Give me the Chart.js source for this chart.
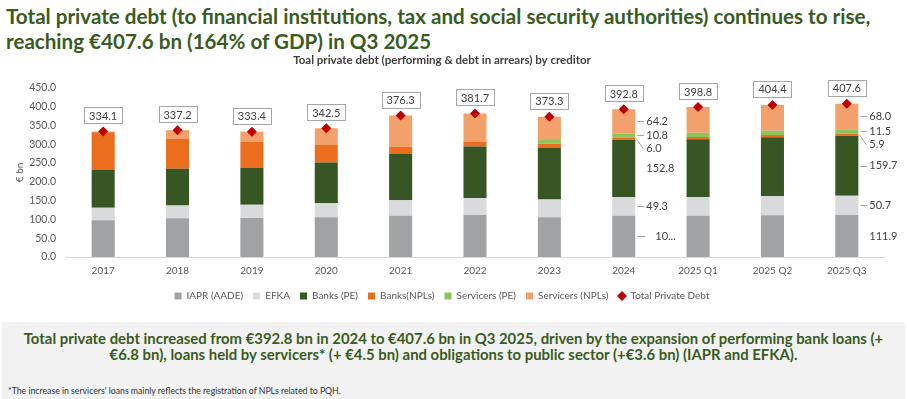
<!DOCTYPE html>
<html>
<head>
<meta charset="utf-8">
<script src="https://cdn.jsdelivr.net/npm/chart.js@4/dist/chart.umd.min.js"></script>
<style>
  body { margin: 0; width: 907px; height: 399px; background: #fff; position: relative; overflow: hidden; font-family: Lato, sans-serif; }
  #title { position: absolute; left: 6px; top: 4px; font-weight: bold; color: #3A5B1F; font-size: 20.6px; line-height: 25px; white-space: nowrap; }
  #wrap { position: absolute; left: 0; top: 48px; width: 907px; height: 268px; }
  #note { position: absolute; left: 2px; top: 322px; width: 903px; height: 77px; background: #F2F2F2; }
  #note .main { text-align: center; font-weight: bold; color: #3A5B1F; font-size: 14.9px; line-height: 16px; padding-top: 8px; white-space: nowrap; }
  #note .foot { position: absolute; left: 6px; top: 63px; font-size: 8.7px; color: #333; white-space: nowrap; }
</style>
</head>
<body>
<div id="title">Total private debt (to financial institutions, tax and social security authorities) continues to rise,<br>reaching €407.6 bn (164% of GDP) in Q3 2025</div>
<div id="wrap"><canvas id="debtChart"></canvas></div>
<div id="note">
  <div class="main">Total private debt increased from €392.8 bn in 2024 to €407.6 bn in Q3 2025, driven by the expansion of performing bank loans (+<br>€6.8 bn), loans held by servicers* (+ €4.5 bn) and obligations to public sector (+€3.6 bn) (IAPR and EFKA).</div>
  <div class="foot">*The increase in servicers' loans mainly reflects the registration of NPLs related to PQH.</div>
</div>
<script>
// Values in € bn
const categories = ['2017', '2018', '2019', '2020', '2021', '2022', '2023', '2024', '2025 Q1', '2025 Q2', '2025 Q3'];
const iapr = [98, 103, 104, 106, 109.5, 112, 106, 109.7, 110, 111, 111.9];
const efka = [33, 34, 35, 37, 41.5, 45, 46.7, 49.3, 49.8, 50.3, 50.7];
const banksPE = [102, 98, 98, 108.5, 123.5, 137, 137.5, 152.8, 153.5, 157, 159.7];
const banksNPL = [99, 80, 69, 47.5, 18.5, 13, 11, 6.0, 6.0, 6.0, 5.9];
const servicersPE = [0, 0, 0, 0, 0, 0, 9.7, 10.8, 11.0, 11.3, 11.5];
const servicersNPL = [2.1, 22.2, 27.4, 43.5, 83.3, 74.7, 62.4, 64.2, 68.5, 68.8, 68.0];
const totalDebt = [334.1, 337.2, 333.4, 342.5, 376.3, 381.7, 373.3, 392.8, 398.8, 404.4, 407.6];
const yTicks = [0, 50, 100, 150, 200, 250, 300, 350, 400, 450];

// bars that get segment labels on their right
const labelledBars = [7, 10];

const textColor = '#595959';

function barSet(label, data, color) {
    return {
        label: label,
        data: data,
        backgroundColor: color,
        borderWidth: 0,
        stack: 'debt',
        barPercentage: 0.31,
        categoryPercentage: 1,
        pointStyle: 'rect',
        order: 1
    };
}

// Draws the boxed totals and the segment values with leader lines
const labelsPlugin = {
    id: 'labelsPlugin',
    afterDatasetsDraw(chart) {
        const ctx = chart.ctx;
        ctx.save();
        ctx.font = '11px Lato';
        ctx.textBaseline = 'middle';

        // totals in boxes
        const pts = chart.getDatasetMeta(6).data;
        pts.forEach((pt, i) => {
            const text = totalDebt[i].toFixed(1);
            const w = Math.round(ctx.measureText(text).width + 10);
            const h = 16;
            const cy = pt.y - 16;
            const x0 = Math.round(pt.x - w / 2) + 0.5;
            const y0 = Math.round(cy - h / 2) + 0.5;
            ctx.fillStyle = '#fff';
            ctx.fillRect(x0, y0, w, h);
            ctx.strokeStyle = '#A6A6A6';
            ctx.lineWidth = 1;
            ctx.strokeRect(x0, y0, w, h);
            ctx.fillStyle = '#404040';
            ctx.textAlign = 'center';
            ctx.fillText(text, pt.x, cy + 1);
        });

        // segment values
        ctx.textAlign = 'left';
        labelledBars.forEach(i => {
            for (let d = 0; d < 6; d++) {
                const bar = chart.getDatasetMeta(d).data[i];
                const value = chart.data.datasets[d].data[i];
                const right = bar.x + bar.width / 2;
                const cy = (bar.y + bar.base) / 2;
                let text = value.toFixed(1);
                let ly = cy;
                let tx = right + 11;
                let line = true;
                ctx.strokeStyle = '#A6A6A6';
                ctx.lineWidth = 1;
                if (d === 3) {
                    // small Banks(NPLs) slice: label pushed down
                    ly = cy + 10;
                    ctx.beginPath();
                    ctx.moveTo(right + 1, cy);
                    ctx.lineTo(right + 8, ly);
                    ctx.stroke();
                    line = false;
                } else if (d === 0 && i === 7) {
                    text = '10...';
                    tx = right + 20;
                    ctx.beginPath();
                    ctx.moveTo(right + 2, Math.round(ly) + 0.5);
                    ctx.lineTo(right + 10, Math.round(ly) + 0.5);
                    ctx.stroke();
                    line = false;
                } else if ((d === 2 && i === 7) || (d === 0 && i === 10)) {
                    line = false;
                }
                if (line) {
                    ctx.beginPath();
                    ctx.moveTo(right + 2, Math.round(ly) + 0.5);
                    ctx.lineTo(right + 9, Math.round(ly) + 0.5);
                    ctx.stroke();
                }
                ctx.fillStyle = '#404040';
                ctx.fillText(text, tx, ly);
            }
        });
        ctx.restore();
    }
};

const ctx = document.getElementById('debtChart').getContext('2d');
new Chart(ctx, {
    type: 'bar',
    data: {
        labels: categories,
        datasets: [
            barSet('IAPR (AADE)', iapr, '#A0A2A4'),
            barSet('EFKA', efka, '#D9DADB'),
            barSet('Banks (PE)', banksPE, '#375623'),
            barSet('Banks(NPLs)', banksNPL, '#EB6E1F'),
            barSet('Servicers (PE)', servicersPE, '#8CC45E'),
            barSet('Servicers (NPLs)', servicersNPL, '#F4A06A'),
            {
                type: 'line',
                label: 'Total Private Debt',
                data: totalDebt,
                showLine: false,
                stack: 'total',
                pointStyle: 'rectRot',
                pointRadius: 5,
                pointHoverRadius: 5,
                backgroundColor: '#C00000',
                borderColor: '#C00000',
                borderWidth: 0,
                order: 0
            }
        ]
    },
    options: {
        responsive: true,
        maintainAspectRatio: false,
        animation: false,
        layout: { padding: { left: 0, right: 23, top: 0, bottom: 5 } },
        plugins: {
            title: {
                display: true,
                text: 'Toal private debt (performing & debt in arrears) by creditor',
                color: '#404040',
                font: { family: 'Lato', size: 11.5 },
                padding: { top: 5, bottom: 21 }
            },
            legend: {
                position: 'bottom',
                labels: {
                    usePointStyle: true,
                    boxWidth: 7,
                    boxHeight: 7,
                    padding: 10,
                    color: textColor,
                    font: { family: 'Lato', size: 10 },
                    sort: (a, b) => a.datasetIndex - b.datasetIndex
                }
            },
            tooltip: { enabled: false }
        },
        scales: {
            x: {
                stacked: true,
                afterFit: scale => { scale.height -= 4; },
                grid: { display: false, drawTicks: false },
                border: { display: true, color: '#D9D9D9', width: 1 },
                ticks: { color: textColor, font: { family: 'Lato', size: 10 }, padding: 8 }
            },
            y: {
                stacked: true,
                min: 0,
                max: 450,
                afterBuildTicks: scale => { scale.ticks = yTicks.map(v => ({ value: v })); },
                afterFit: scale => { scale.width = 66; },
                grid: { display: false, drawTicks: false },
                border: { display: false },
                title: { display: true, text: '€ bn', color: textColor, font: { family: 'Lato', size: 10 }, padding: 14 },
                ticks: {
                    color: textColor,
                    font: { family: 'Lato', size: 10.5 },
                    padding: 10,
                    callback: v => v.toFixed(1)
                }
            }
        }
    },
    plugins: [labelsPlugin]
});
</script>
</body>
</html>
